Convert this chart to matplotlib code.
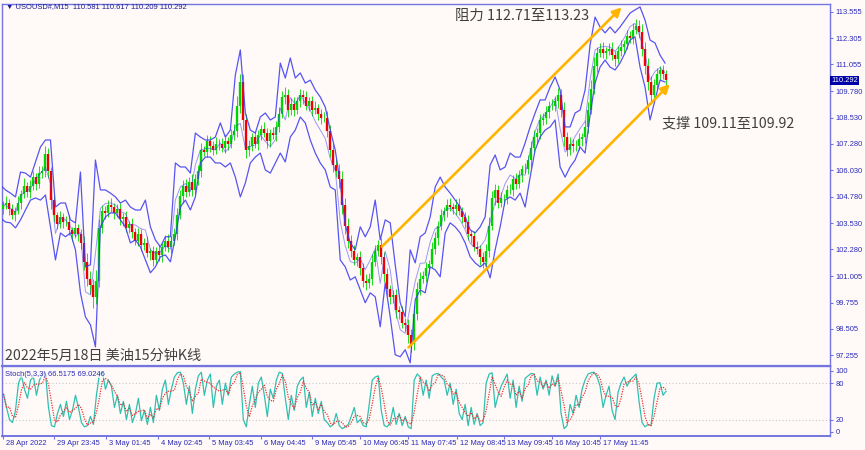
import numpy as np
import matplotlib
matplotlib.use("Agg")
import matplotlib.pyplot as plt
import matplotlib.transforms as mtransforms

plt.rcParams['font.family'] = ['Noto Sans CJK SC', 'DejaVu Sans']

# ---------------- data ----------------
first_open = 104.2
closes = [
    104.38, 104.5, 104.2, 103.9, 104.1, 104.5, 104.9, 105.3, 105.0, 105.3,
    105.7, 105.4, 105.9, 106.0, 106.8, 106.0, 104.6, 103.9, 103.5, 103.8,
    103.6, 103.6, 103.2, 103.0, 103.3, 103.0, 102.6, 101.7, 100.9, 100.6,
    100.0, 100.8, 103.3, 104.1, 104.0, 104.4, 104.3, 104.0, 104.2, 103.7,
    103.8, 103.3, 103.5, 103.1, 102.7, 103.0, 102.5, 102.6, 102.1, 102.2,
    101.8, 102.2, 102.0, 102.4, 102.7, 102.4, 102.7, 103.0, 103.9, 104.8,
    105.3, 105.0, 105.5, 105.1, 105.6, 106.0, 107.0, 106.9, 107.4, 107.2,
    107.0, 107.3, 107.3, 107.1, 107.4, 107.3, 107.7, 107.9, 109.1, 110.2,
    108.4, 107.0, 107.2, 107.6, 107.3, 107.7, 108.0, 107.8, 107.4, 107.8,
    107.7, 108.1, 108.7, 109.5, 109.6, 108.9, 109.2, 108.9, 109.3, 109.6,
    109.5, 109.1, 109.3, 108.9, 109.0, 108.7, 108.5, 108.5, 107.9, 107.0,
    106.3, 106.0, 105.6, 104.4, 103.4, 102.7, 102.2, 101.8, 101.9, 101.4,
    100.8, 100.7, 100.9, 101.7, 102.2, 102.5, 101.9, 101.1, 100.4, 100.0,
    100.1, 99.4, 99.3, 98.8, 98.7, 98.2, 97.8, 99.2, 100.4, 100.9,
    101.0, 101.4, 101.6, 102.3, 102.8, 103.4, 103.9, 104.1, 104.4, 104.3,
    104.2, 104.4, 104.1, 103.8, 103.6, 103.0, 102.9, 102.4, 102.3, 101.9,
    101.7, 102.2, 103.4, 104.7, 105.1, 104.5, 104.7, 104.7, 105.1, 105.1,
    105.6, 105.4, 105.8, 106.1, 106.1, 106.5, 107.1, 107.6, 107.8, 108.4,
    108.5, 108.8, 109.1, 109.1, 109.3, 109.6, 108.9, 107.6, 107.0, 107.3,
    107.2, 107.2, 107.5, 107.6, 108.1, 108.9, 109.9, 111.0, 111.6, 111.8,
    111.6, 111.7, 111.8, 111.5, 111.3, 111.7, 111.9, 112.0, 112.4, 112.3,
    112.7, 112.9, 112.6, 111.8, 111.0, 110.2, 109.6, 110.1, 110.6, 110.8,
    110.6, 110.292,
]
# wick lengths above / below the candle body (price units)
wick_up = [
    0.2, 0.3, 0.15, 0.25, 0.2, 0.3, 0.2, 0.35, 0.2, 0.25,
    0.3, 0.2, 0.35, 0.25, 0.4, 0.3, 0.2, 0.25, 0.15, 0.3,
    0.2, 0.25, 0.3, 0.15, 0.3, 0.2, 0.25, 0.3, 0.4, 0.35,
    0.3, 0.5, 0.4, 0.3, 0.25, 0.2, 0.3, 0.2, 0.25, 0.3,
    0.2, 0.3, 0.15, 0.25, 0.2, 0.3, 0.25, 0.2, 0.3, 0.15,
    0.25, 0.2, 0.3, 0.2, 0.25, 0.3, 0.2, 0.3, 0.35, 0.3,
    0.25, 0.3, 0.2, 0.35, 0.25, 0.3, 0.35, 0.2, 0.3, 0.25,
    0.2, 0.3, 0.2, 0.25, 0.3, 0.2, 0.3, 0.35, 0.45, 0.4,
    0.4, 0.3, 0.25, 0.2, 0.3, 0.25, 0.2, 0.3, 0.25, 0.2,
    0.3, 0.25, 0.35, 0.3, 0.4, 0.3, 0.25, 0.3, 0.2, 0.3,
    0.25, 0.3, 0.2, 0.25, 0.3, 0.2, 0.25, 0.3, 0.35, 0.3,
    0.3, 0.25, 0.35, 0.4, 0.3, 0.35, 0.25, 0.3, 0.2, 0.3,
    0.25, 0.3, 0.25, 0.35, 0.3, 0.25, 0.3, 0.25, 0.3, 0.2,
    0.25, 0.3, 0.2, 0.3, 0.25, 0.3, 0.3, 0.45, 0.35, 0.3,
    0.25, 0.3, 0.2, 0.35, 0.3, 0.25, 0.3, 0.2, 0.25, 0.3,
    0.2, 0.25, 0.3, 0.2, 0.25, 0.3, 0.2, 0.25, 0.3, 0.2,
    0.25, 0.35, 0.4, 0.35, 0.3, 0.25, 0.3, 0.2, 0.25, 0.3,
    0.2, 0.3, 0.25, 0.2, 0.3, 0.25, 0.3, 0.35, 0.25, 0.3,
    0.25, 0.3, 0.2, 0.3, 0.25, 0.35, 0.3, 0.35, 0.25, 0.3,
    0.2, 0.25, 0.3, 0.2, 0.3, 0.35, 0.4, 0.4, 0.3, 0.25,
    0.3, 0.2, 0.25, 0.3, 0.2, 0.25, 0.3, 0.2, 0.3, 0.25,
    0.3, 0.3, 0.25, 0.35, 0.3, 0.35, 0.3, 0.25, 0.3, 0.2,
    0.25, 0.2,
]
wick_dn = [
    0.25, 0.2, 0.3, 0.2, 0.25, 0.15, 0.3, 0.2, 0.25, 0.3,
    0.2, 0.3, 0.2, 0.25, 0.3, 0.35, 0.4, 0.3, 0.25, 0.2,
    0.3, 0.2, 0.25, 0.3, 0.2, 0.3, 0.3, 0.4, 0.35, 0.45,
    0.5, 0.3, 0.3, 0.25, 0.3, 0.2, 0.25, 0.3, 0.2, 0.25,
    0.3, 0.2, 0.25, 0.3, 0.2, 0.25, 0.3, 0.25, 0.2, 0.3,
    0.3, 0.2, 0.25, 0.3, 0.2, 0.25, 0.3, 0.2, 0.25, 0.2,
    0.3, 0.25, 0.2, 0.3, 0.2, 0.25, 0.3, 0.2, 0.25, 0.3,
    0.25, 0.2, 0.3, 0.2, 0.25, 0.3, 0.2, 0.25, 0.3, 0.35,
    0.45, 0.4, 0.3, 0.25, 0.2, 0.3, 0.25, 0.2, 0.3, 0.25,
    0.2, 0.3, 0.25, 0.2, 0.3, 0.35, 0.25, 0.3, 0.2, 0.25,
    0.3, 0.2, 0.25, 0.3, 0.2, 0.3, 0.25, 0.2, 0.3, 0.35,
    0.35, 0.3, 0.4, 0.45, 0.4, 0.35, 0.3, 0.25, 0.3, 0.35,
    0.3, 0.35, 0.25, 0.3, 0.2, 0.25, 0.3, 0.35, 0.3, 0.3,
    0.25, 0.35, 0.3, 0.25, 0.3, 0.35, 0.4, 0.3, 0.25, 0.3,
    0.2, 0.25, 0.3, 0.2, 0.25, 0.3, 0.2, 0.25, 0.3, 0.2,
    0.25, 0.3, 0.2, 0.25, 0.3, 0.25, 0.3, 0.2, 0.25, 0.35,
    0.3, 0.25, 0.3, 0.2, 0.3, 0.25, 0.2, 0.3, 0.25, 0.2,
    0.3, 0.25, 0.2, 0.3, 0.2, 0.25, 0.3, 0.2, 0.25, 0.3,
    0.2, 0.25, 0.3, 0.2, 0.25, 0.3, 0.35, 0.4, 0.3, 0.25,
    0.3, 0.25, 0.2, 0.3, 0.25, 0.3, 0.2, 0.25, 0.3, 0.2,
    0.25, 0.3, 0.2, 0.25, 0.3, 0.2, 0.25, 0.3, 0.2, 0.25,
    0.3, 0.2, 0.3, 0.35, 0.4, 0.35, 0.4, 0.3, 0.25, 0.3,
    0.25, 0.3,
]

# Bollinger bands, sampled every 5/3 bars
band_step_bars = 5.0 / 3.0
upper_band = [
    105.33, 105.10, 104.95, 104.77, 105.95, 105.90, 105.71, 106.43, 107.14, 107.47,
    107.47, 104.29, 104.48, 104.48, 103.68, 103.54, 105.95, 101.45, 101.55, 106.52,
    105.10, 105.10, 104.95, 104.77, 104.48, 104.62, 104.29, 104.15, 104.15, 104.62,
    103.35, 102.73, 102.40, 102.88, 102.88, 106.38, 106.19, 106.19, 105.90, 107.80,
    107.61, 107.47, 107.47, 107.61, 108.28, 107.61, 107.94, 110.55, 111.74, 108.75,
    107.94, 107.80, 108.56, 108.75, 108.42, 108.56, 111.12, 110.41, 111.36, 110.41,
    110.65, 110.17, 110.31, 109.84, 109.51, 109.03, 107.94, 106.99, 105.43, 103.44,
    102.59, 102.26, 103.35, 102.88, 103.35, 104.62, 102.73, 103.68, 103.54, 101.55,
    99.75, 99.08, 102.26, 101.64, 102.88, 103.06, 103.82, 105.24, 105.71, 105.24,
    104.95, 104.62, 104.29, 103.82, 103.21, 103.06, 103.35, 103.82, 106.28, 106.76,
    106.05, 106.19, 106.85, 106.66, 106.66, 107.33, 108.09, 108.75, 109.37, 109.37,
    109.98, 110.46, 109.84, 108.09, 108.09, 108.75, 108.89, 109.84, 111.98, 113.30,
    112.83, 112.55, 112.83, 112.55, 112.83, 113.16, 113.49, 113.64, 113.78, 113.16,
    112.21, 112.07, 111.50, 111.12,
]
lower_band = [
    103.77, 103.58, 103.54, 103.30, 103.68, 104.15, 104.62, 104.72, 104.62, 104.86,
    103.35, 101.78, 103.06, 102.88, 103.06, 102.26, 100.22, 99.08, 98.70, 97.66,
    103.35, 103.82, 104.01, 104.01, 103.68, 103.35, 102.59, 102.73, 102.40, 101.78,
    101.17, 101.45, 101.93, 102.02, 101.69, 102.88, 104.29, 104.62, 104.15, 104.77,
    106.38, 106.66, 106.66, 106.38, 106.38, 106.19, 106.38, 105.71, 104.77, 105.43,
    106.38, 106.66, 106.85, 106.05, 105.90, 106.38, 106.85, 106.43, 107.61, 107.94,
    108.56, 108.28, 107.47, 106.85, 106.38, 106.05, 105.24, 105.10, 101.78, 101.45,
    100.83, 100.98, 100.36, 99.75, 100.22, 100.03, 98.61, 100.69, 99.08, 97.28,
    97.19, 97.52, 96.90, 99.89, 100.36, 100.22, 101.45, 101.31, 100.98, 103.06,
    103.54, 103.35, 103.06, 102.59, 101.93, 101.64, 101.45, 101.64, 100.93, 102.26,
    103.35, 104.62, 104.77, 104.62, 104.95, 104.29, 105.71, 106.99, 107.61, 107.94,
    108.09, 108.42, 106.19, 105.71, 106.19, 106.52, 107.14, 106.85, 108.65, 110.17,
    110.93, 111.26, 110.93, 110.79, 111.12, 111.60, 112.21, 112.36, 110.93, 109.98,
    108.42, 109.37, 110.31, 110.22,
]

stoch_k = [
    62, 40, 20, 15, 35, 80, 92, 70, 55, 85,
    90, 60, 85, 95, 97, 40, 10, 8, 30, 45,
    25, 50, 20, 35, 60, 40, 15, 8, 10, 25,
    12, 60, 95, 98, 70, 85, 75, 40, 60, 30,
    50, 20, 45, 15, 30, 55, 18, 35, 12, 40,
    15, 60, 35, 70, 85, 45, 70, 90, 97, 98,
    80, 45, 75, 30, 70, 92, 98, 60, 85, 95,
    40, 75, 85, 45, 80, 60, 90, 95, 98, 99,
    20, 8, 45, 75, 40, 80, 90, 60, 25, 70,
    55, 85, 98, 96, 55, 20, 60, 35, 75, 85,
    90, 40, 65, 25, 55, 30, 50, 20, 15, 8,
    12, 30, 10, 5, 8, 12, 25, 40, 15, 20,
    10, 8, 45, 85, 90, 92, 35, 10, 8, 15,
    40, 12, 30, 10, 25, 8, 5, 85, 95, 90,
    60, 85, 55, 92, 95, 96, 90, 85, 60, 80,
    45, 70, 30, 20, 45, 10, 40, 12, 30, 10,
    15, 80, 95, 97, 40, 60, 75, 85, 95, 55,
    85, 40, 75, 50, 88, 92, 96, 95, 60, 90,
    70, 85, 60, 92, 75, 95, 30, 5, 10, 45,
    30, 60, 40, 70, 85, 95, 97, 98, 90, 75,
    40, 60, 75, 35, 20, 65, 80, 90, 75, 85,
    90, 95, 50, 15, 8, 12, 10, 55, 80, 80.5,
    60, 66.5,
]

price_ticks = [113.555, 112.305, 111.055, 109.780, 108.530, 107.280, 106.030,
               104.780, 103.530, 102.280, 101.005, 99.755, 98.505, 97.255]
time_labels = ["28 Apr 2022", "29 Apr 23:45", "3 May 01:45", "4 May 02:45",
               "5 May 03:45", "6 May 04:45", "9 May 05:45", "10 May 06:45",
               "11 May 07:45", "12 May 08:45", "13 May 09:45", "16 May 10:45",
               "17 May 11:45"]
time_label_bars = [-0.3, 17.0, 34.2, 51.6, 68.7, 86.0, 103.0, 119.0, 135.0,
                   151.3, 167.0, 183.0, 199.0]

# trend channel (bar index, price)
channel_upper = [(126.2, 102.41), (206.2, 113.76)]
channel_lower = [(135.1, 97.63), (222.3, 110.12)]

last_price = 110.292
header = "\u25bc USOUSD#,M15  110.581 110.617 110.209 110.292"
stoch_label = "Stoch(5,3,3) 66.5175 69.0246"

# ---------------- style ----------------
BG = "#FFFAF8"
FRAME = "#7474E0"
TXTBLUE = "#2A2AB8"
SMALL = ['Liberation Sans', 'DejaVu Sans']

W, H = 865, 450
fig = plt.figure(figsize=(W / 100, H / 100), dpi=100, facecolor=BG)

ax = fig.add_axes([2 / W, 1 - 366 / H, 828 / W, 362 / H], facecolor=BG)
axs = fig.add_axes([2 / W, 1 - 436 / H, 828 / W, 70 / H], facecolor=BG, sharex=ax)

n = len(closes)
idx = np.arange(n)
closes_a = np.array(closes)
opens_a = np.concatenate([[first_open], closes_a[:-1]])
highs_a = np.maximum(opens_a, closes_a) + np.array(wick_up)
lows_a = np.minimum(opens_a, closes_a) - np.array(wick_dn)
up = closes_a >= opens_a

GREEN, RED = "#00D400", "#F00000"
ax.vlines(idx, lows_a, highs_a, colors=GREEN, lw=0.6, zorder=3)
ax.vlines(idx[up], opens_a[up], closes_a[up], colors=GREEN, lw=1.7, zorder=3.2)
ax.vlines(idx[~up], opens_a[~up], closes_a[~up], colors=RED, lw=1.7, zorder=3.2)

bx = np.arange(len(upper_band)) * band_step_bars - 1.0
ub = np.array(upper_band)
lb = np.array(lower_band)
ax.plot(bx, ub, color="#3838F0", lw=0.9, alpha=0.85, zorder=4)
ax.plot(bx, lb, color="#3838F0", lw=0.9, alpha=0.85, zorder=4)
ax.plot(bx, (ub + lb) / 2, color="#3838F0", lw=0.7, alpha=0.5, zorder=4)

# channel arrows
for seg in (channel_upper, channel_lower):
    (x0, y0), (x1, y1) = seg
    ax.annotate("", xy=(x1, y1), xytext=(x0, y0),
                arrowprops=dict(arrowstyle="-|>", color="#FFB400", lw=1.9,
                                mutation_scale=13, shrinkA=0, shrinkB=0),
                zorder=5)

ax.set_xlim(-0.5, 275.7)
ax.set_ylim(96.75, 113.92)

ax.yaxis.tick_right()
ax.set_yticks(price_ticks)
ax.set_yticklabels([f"{v:.3f}" for v in price_ticks])
ax.tick_params(axis="y", direction="out", length=2, width=0.8, color=FRAME,
               labelsize=5.4, labelcolor=TXTBLUE, pad=2)
for lbl in ax.get_yticklabels():
    lbl.set_family(SMALL)
ax.tick_params(axis="x", bottom=False, labelbottom=False)

for s in ax.spines.values():
    s.set_color(FRAME)
    s.set_linewidth(1.0)
ax.spines["bottom"].set_linewidth(1.6)

# current price label
trans = mtransforms.blended_transform_factory(ax.transAxes, ax.transData)
ax.text(1.0015, last_price, f"{last_price:.3f}", transform=trans, ha="left",
        va="center", fontsize=5.4, color="white", family=SMALL, zorder=10,
        bbox=dict(boxstyle="square,pad=0.15", fc="#0000A8", ec="none"),
        clip_on=False)

# ---------------- stochastic ----------------
k = np.array(stoch_k, dtype=float)
d = np.convolve(k, np.ones(3) / 3, mode="full")[:len(k)]
d[:2] = k[:2]
kx = np.arange(len(k))
axs.axhline(80, color="#C8C8C8", lw=0.8, ls=(0, (1, 2)), zorder=1)
axs.axhline(20, color="#C8C8C8", lw=0.8, ls=(0, (1, 2)), zorder=1)
axs.plot(kx, k, color="#30C0B0", lw=0.9, zorder=3)
axs.plot(kx, d, color="#F03030", lw=0.9, ls=(0, (1, 1)), zorder=4)
axs.set_ylim(-7.1, 108.2)
axs.yaxis.tick_right()
axs.set_yticks([100, 80, 20, 0])
axs.set_yticklabels(["100", "80", "20", "0"])
axs.tick_params(axis="y", direction="out", length=2, width=0.8, color=FRAME,
                labelsize=5.4, labelcolor=TXTBLUE, pad=2)
for lbl in axs.get_yticklabels():
    lbl.set_family(SMALL)

axs.set_xticks(time_label_bars)
axs.set_xticklabels([""] * len(time_label_bars))
axs.tick_params(axis="x", direction="out", length=2.5, width=0.8, color=FRAME)
tx = mtransforms.blended_transform_factory(axs.transData, axs.transAxes)
for pos, lab in zip(time_label_bars, time_labels):
    axs.text(pos + 1.0, -0.06, lab, transform=tx, ha="left", va="top",
             fontsize=5.4, color=TXTBLUE, family=SMALL, clip_on=False)
for s in axs.spines.values():
    s.set_color(FRAME)
    s.set_linewidth(1.0)
axs.spines["bottom"].set_linewidth(1.4)
axs.text(0.004, 0.93, stoch_label, transform=axs.transAxes, ha="left", va="top",
         fontsize=5.4, color=TXTBLUE, family=SMALL, zorder=6,
         bbox=dict(boxstyle="square,pad=0.05", fc=BG, ec="none", alpha=0.6))

# ---------------- texts ----------------
fig.text(6 / W, 1 - 7 / H, header, ha="left", va="center", fontsize=5.4,
         color="#1C1C90", family=SMALL)
fig.text(522 / W, 1 - 16 / H, "阻力 112.71至113.23", ha="center", va="center",
         fontsize=10.4, color="#404040")
fig.text(662 / W, 1 - 123 / H, "支撑 109.11至109.92", ha="left", va="center",
         fontsize=10.2, color="#404040")
fig.text(5 / W, 1 - 356 / H, "2022年5月18日 美油15分钟K线", ha="left", va="center",
         fontsize=10.2, color="#404040")

fig.savefig("out.png", dpi=100, facecolor=BG)
